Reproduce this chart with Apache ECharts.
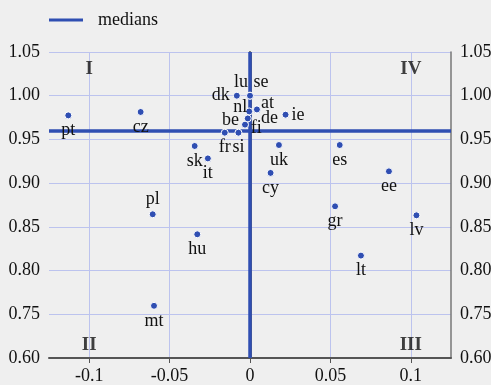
<!DOCTYPE html>
<html>
<head>
<meta charset="utf-8">
<script src="https://cdn.jsdelivr.net/npm/echarts@6/dist/echarts.min.js"></script>
<style>
  html, body { margin: 0; padding: 0; background: #efefef; }
  #chart { width: 491px; height: 385px; }
</style>
</head>
<body>
<div id="chart"></div>
<script>
// country codes and their (x, y) coordinates
var countries = ['pt', 'cz', 'dk', 'lu', 'se', 'at', 'de', 'nl', 'fi', 'be', 'fr', 'si', 'ie',
  'sk', 'it', 'uk', 'cy', 'es', 'ee', 'gr', 'lv', 'lt', 'pl', 'hu', 'mt']
var xValues = [-0.113, -0.068, -0.0082, 0.0, 0.0, 0.0043, 0.0043, -0.0005, -0.0014, -0.0031, -0.0157, -0.0072, 0.0221,
  -0.0344, -0.0262, 0.018, 0.0128, 0.0558, 0.0864, 0.0529, 0.1035, 0.069, -0.0605, -0.0328, -0.0597]
var yValues = [0.9775, 0.9814, 1.0, 1.0, 1.0, 0.9843, 0.9843, 0.982, 0.974, 0.9669, 0.9577, 0.9577, 0.9783,
  0.9425, 0.9283, 0.9436, 0.9117, 0.9436, 0.9135, 0.8735, 0.8632, 0.8171, 0.8644, 0.8415, 0.7597]

// medians
var medianX = -0.0017
var medianY = 0.958

// quadrant captions
var quadNames = ['I', 'IV', 'II', 'III']
var quadX = [-0.1, 0.1, -0.1, 0.1]
var quadY = [1.031, 1.031, 0.715, 0.715]

// tick values and labels (bottom of the y axis is labelled 0.60)
var xTicks = [-0.1, -0.05, 0, 0.05, 0.1]
var yTickValues = [0.70, 0.75, 0.80, 0.85, 0.90, 0.95, 1.00, 1.05]
var yTickLabels = ['0.60', '0.75', '0.80', '0.85', '0.90', '0.95', '1.00', '1.05']

// how each country label sits around its dot
var labelPlace = {
  dk: ['left', 0, 0],
  lu: ['top', -9, 3],
  se: ['top', 11, 3],
  at: ['right', -3, -6],
  de: ['right', -3, 9],
  nl: ['left', 5, -4],
  fi: ['right', -4, 10],
  be: ['left', 1, -4],
  ie: ['right', -1, 1],
  pl: ['top', 0, 1]
}

var FONT = 'Liberation Serif'
var FS = 18
var BLUE = '#2f4eb2'
var GRID = '#bcc3ee'

function labelFor(code) {
  var p = labelPlace[code] || ['bottom', 0, -1]
  return { position: p[0], offset: [p[1], p[2]] }
}

var points = countries.map(function(c, i) {
  return { name: c, value: [xValues[i], yValues[i]], label: labelFor(c) }
})

var quads = quadNames.map(function(q, i) {
  return { name: q, value: [quadX[i], quadY[i]] }
})

function yLabel(v) {
  for (var i = 0; i < yTickValues.length; i++) {
    if (Math.abs(yTickValues[i] - v) < 1e-6) return yTickLabels[i]
  }
  return ''
}

var yAxisBase = {
  type: 'value',
  min: 0.70,
  max: 1.05,
  interval: 0.05,
  axisTick: { show: false },
  axisLabel: { color: '#111', fontSize: FS, fontFamily: FONT, margin: 9, formatter: yLabel }
}

var chart = echarts.init(document.getElementById('chart'))
chart.setOption({
  backgroundColor: '#efefef',
  animation: false,
  textStyle: { fontFamily: FONT },
  legend: {
    left: 44,
    top: 6,
    itemWidth: 34,
    itemHeight: 3,
    data: [{ name: 'medians', icon: 'rect', itemStyle: { color: BLUE } }],
    textStyle: { color: '#111', fontSize: FS, fontFamily: FONT, padding: [0, 0, 0, 10] }
  },
  grid: { left: 49, right: 40, top: 52, bottom: 27, containLabel: false, outerBoundsMode: 'none' },
  xAxis: {
    type: 'value',
    min: -0.125,
    max: 0.125,
    splitNumber: 5,
    axisLine: { onZero: false, lineStyle: { color: '#555', width: 2 } },
    axisTick: { show: true, length: 5, customValues: xTicks, lineStyle: { color: '#555' } },
    axisLabel: { customValues: xTicks, color: '#111', fontSize: FS, fontFamily: FONT, margin: 9,
      formatter: function(v) { return String(v) } },
    splitLine: { show: true, lineStyle: { color: GRID, width: 1 } }
  },
  yAxis: [
    Object.assign({}, yAxisBase, {
      position: 'left',
      axisLine: { show: true, lineStyle: { color: '#555', width: 2 } },
      splitLine: { show: true, lineStyle: { color: GRID, width: 1 } }
    }),
    Object.assign({}, yAxisBase, {
      position: 'right',
      axisLine: { show: true, lineStyle: { color: '#777', width: 1.5 } },
      splitLine: { show: false }
    })
  ],
  series: [
    {
      name: 'zero',
      type: 'scatter',
      data: [],
      z: 1,
      markLine: {
        silent: true,
        symbol: 'none',
        label: { show: false },
        data: [{ xAxis: 0, lineStyle: { color: '#666', width: 3, type: 'solid' } },
          { xAxis: 0, lineStyle: { color: '#ddd', width: 1, type: 'solid' } }]
      }
    },
    {
      name: 'medians',
      type: 'line',
      data: [],
      z: 2,
      markLine: {
        silent: true,
        symbol: 'none',
        label: { show: false },
        lineStyle: { color: BLUE, width: 3.5, type: 'solid' },
        data: [{ xAxis: medianX }, { yAxis: medianY }]
      }
    },
    {
      name: 'countries',
      type: 'scatter',
      z: 5,
      symbolSize: 7,
      itemStyle: { color: BLUE, borderColor: '#fff', borderWidth: 1, opacity: 1 },
      label: {
        show: true,
        formatter: '{b}',
        distance: 3,
        color: '#111',
        fontSize: FS,
        fontFamily: FONT
      },
      data: points
    },
    {
      name: 'quadrants',
      type: 'scatter',
      z: 4,
      symbolSize: 0,
      label: {
        show: true,
        position: 'inside',
        formatter: '{b}',
        color: '#111',
        fontSize: 19,
        fontWeight: 'bold',
        fontFamily: FONT
      },
      data: quads
    }
  ]
})
</script>
</body>
</html>
